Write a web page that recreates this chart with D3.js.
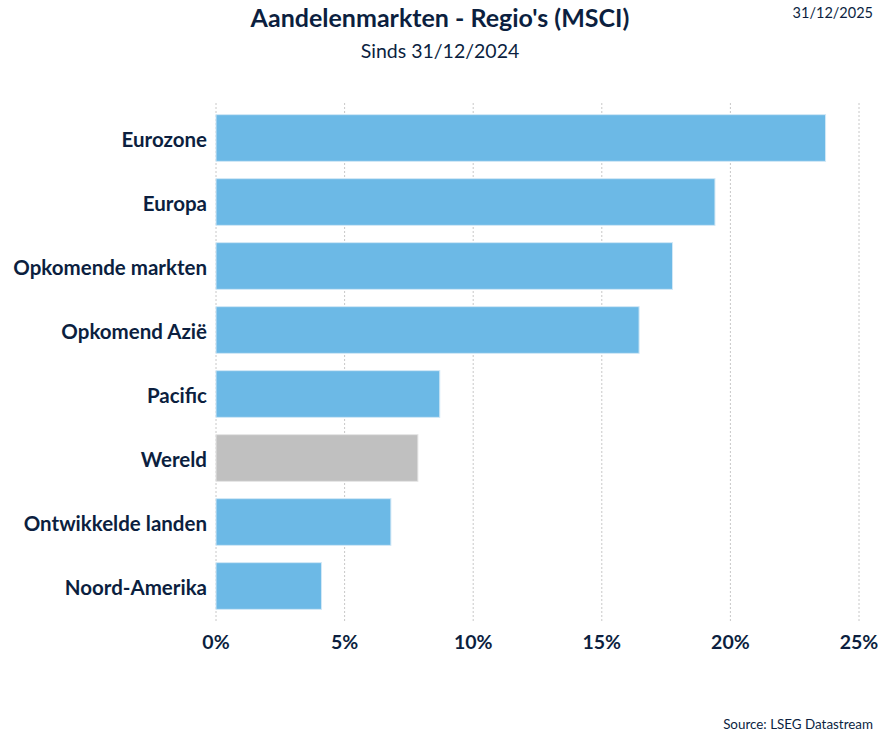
<!DOCTYPE html>
<html lang="nl">
<head>
  <meta charset="UTF-8">
  <title>Aandelenmarkten - Regio's (MSCI)</title>
  <script src="https://d3js.org/d3.v7.min.js"></script>
  <style>
    body { margin: 0; background: #fff; font-family: Lato, 'Noto Sans', sans-serif; }
    .grid line { stroke: #c8c8c8; stroke-width: 1; stroke-dasharray: 2 2; }
    .label { fill: #0c1f3f; font-weight: bold; font-size: 20.5px; }
    .tick-label { fill: #0c1f3f; font-weight: bold; font-size: 19.5px; }
  </style>
</head>
<body>
  <svg width="878" height="733"></svg>
  <script>
    const regions = ["Eurozone", "Europa", "Opkomende markten", "Opkomend Azië", "Pacific", "Wereld", "Ontwikkelde landen", "Noord-Amerika"];
    const returns = [23.7, 19.4, 17.75, 16.45, 8.7, 7.85, 6.8, 4.1];
    const ticks = [0, 5, 10, 15, 20, 25];
    const highlight = "Wereld";

    const svg = d3.select("svg");
    const margin = { top: 103, right: 19, bottom: 111, left: 216 };
    const width = 878 - margin.left - margin.right;
    const height = 733 - margin.top - margin.bottom;
    const g = svg.append("g").attr("transform", `translate(${margin.left},${margin.top})`);

    const x = d3.scaleLinear().domain([0, 25]).range([0, width]);
    const y = d3.scaleBand().domain(regions).range([3, 515]).paddingInner(0.27).paddingOuter(0.135);

    // vertical dotted grid
    g.append("g").attr("class", "grid")
      .selectAll("line").data(ticks).join("line")
      .attr("x1", d => x(d)).attr("x2", d => x(d))
      .attr("y1", 0).attr("y2", 519);

    const data = regions.map((r, i) => ({ region: r, value: returns[i] }));

    g.selectAll(".bar").data(data).join("rect")
      .attr("class", "bar")
      .attr("x", x(0))
      .attr("y", d => y(d.region))
      .attr("width", d => x(d.value) - x(0))
      .attr("height", y.bandwidth())
      .attr("fill", d => d.region === highlight ? "#c0c0c0" : "#6cb9e6")
      .attr("stroke", d => d.region === highlight ? "#e6e6e6" : "#d2e8f6")
      .attr("stroke-width", 1);

    g.selectAll(".label").data(data).join("text")
      .attr("class", "label")
      .attr("x", -9)
      .attr("y", d => y(d.region) + y.bandwidth() / 2)
      .attr("dy", "0.42em")
      .attr("text-anchor", "end")
      .text(d => d.region);

    g.selectAll(".tick-label").data(ticks).join("text")
      .attr("class", "tick-label")
      .attr("x", d => x(d))
      .attr("y", 546)
      .attr("text-anchor", "middle")
      .text(d => d + "%");

    svg.append("text")
      .attr("x", 440).attr("y", 27)
      .attr("text-anchor", "middle")
      .attr("fill", "#0c1f3f")
      .attr("font-weight", "bold")
      .attr("font-size", 25)
      .text("Aandelenmarkten - Regio's (MSCI)");

    svg.append("text")
      .attr("x", 440).attr("y", 58)
      .attr("text-anchor", "middle")
      .attr("fill", "#0c1f3f")
      .attr("font-size", 19.5)
      .text("Sinds 31/12/2024");

    svg.append("text")
      .attr("x", 873).attr("y", 18)
      .attr("text-anchor", "end")
      .attr("fill", "#0c1f3f")
      .attr("font-size", 14.5)
      .text("31/12/2025");

    svg.append("text")
      .attr("x", 873).attr("y", 729)
      .attr("text-anchor", "end")
      .attr("fill", "#0c1f3f")
      .attr("font-size", 13.4)
      .text("Source: LSEG Datastream");
  </script>
</body>
</html>
